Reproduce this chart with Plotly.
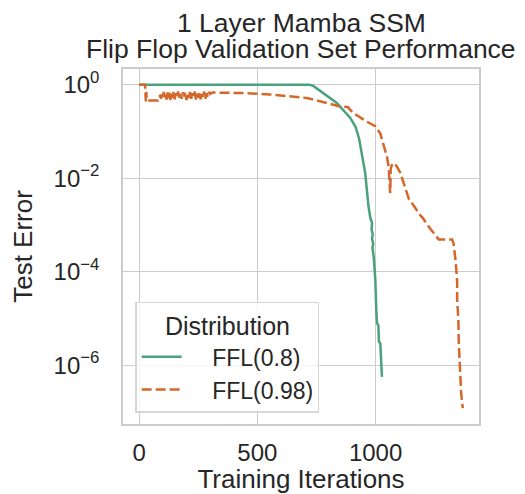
import plotly.graph_objects as go

# ---- data ----
green_label = "FFL(0.8)"
green_x = [0, 720, 735, 836, 893, 915, 930, 942, 956, 970, 978, 985, 983, 988, 985,
           990, 987, 992, 995, 999, 1003, 1006, 1012, 1014, 1020, 1022, 1027]
green_y = [1.0, 1.0, 0.955, 0.407, 0.195, 0.126, 0.071, 0.032, 0.013, 2.5e-3, 1.4e-3,
           1.1e-3, 8e-4, 6.3e-4, 5e-4, 4e-4, 3.2e-4, 2.1e-4, 1.26e-4, 6.6e-5, 1.5e-5,
           8e-6, 7e-6, 3.2e-6, 2.9e-6, 1.3e-6, 5.6e-7]

orange_label = "FFL(0.98)"
orange_x = [0, 25, 28, 30, 32, 80, 88, 92, 96, 100, 104, 108, 112, 116, 120, 124, 128,
            132, 136, 140, 145, 150, 155, 160, 165, 170, 175, 180, 185, 190, 195, 200,
            205, 210, 215, 220, 225, 230, 235, 240, 245, 250, 255, 260, 265, 270, 275,
            280, 285, 290, 295, 300, 310, 450, 550, 709, 850, 884, 890, 907, 963, 999,
            1020, 1034, 1048, 1055, 1058, 1062, 1064, 1070, 1077, 1090, 1105, 1140,
            1189, 1200, 1225, 1267, 1324, 1330, 1338, 1345, 1345, 1350, 1352, 1356,
            1360, 1362, 1369]
orange_y = [1.0, 1.0, 0.44, 0.7, 0.46, 0.46, 0.6, 0.5, 0.66, 0.55, 0.7, 0.5, 0.62, 0.48,
            0.68, 0.52, 0.7, 0.47, 0.64, 0.53, 0.7, 0.49, 0.66, 0.55, 0.71, 0.48, 0.63,
            0.5, 0.69, 0.56, 0.7, 0.47, 0.65, 0.52, 0.7, 0.5, 0.66, 0.56, 0.71, 0.48,
            0.64, 0.53, 0.7, 0.49, 0.68, 0.55, 0.71, 0.5, 0.66, 0.54, 0.7, 0.63, 0.68,
            0.66, 0.62, 0.52, 0.343, 0.33, 0.3, 0.245, 0.162, 0.129, 0.09, 0.05, 0.029,
            0.0178, 0.01, 0.0048, 0.0158, 0.02, 0.021, 0.0178, 0.0129, 0.0037, 1.62e-3,
            1.4e-3, 9.1e-4, 4.9e-4, 4.9e-4, 4e-4, 1.78e-4, 6.6e-5, 2.5e-5, 1e-5,
            2.95e-6, 7.9e-7, 5e-7, 2.5e-7, 1.2e-7]

x_ticks = [0, 500, 1000]
y_ticks = [1, 1e-2, 1e-4, 1e-6]
y_tick_text = ["10<sup>0</sup>", "10<sup>\u22122</sup>", "10<sup>\u22124</sup>", "10<sup>\u22126</sup>"]

title_lines = ["1 Layer Mamba SSM", "Flip Flop Validation Set Performance"]
legend_title = "Distribution"

# ---- figure ----
FONT = "Liberation Sans, Arial, sans-serif"
TXT = "#262626"
GRID = "#cccccc"
PAD = "\u00a0" * 4

fig = go.Figure()
fig.add_trace(go.Scatter(x=green_x, y=green_y, mode="lines", name=PAD + green_label,
                         line=dict(color="#4aa27c", width=2.5)))
fig.add_trace(go.Scatter(x=orange_x, y=orange_y, mode="lines", name=PAD + orange_label,
                         line=dict(color="#d4672a", width=2.5, dash="10px,4px")))

fig.update_layout(
    width=525, height=494,
    margin=dict(l=123, r=46, t=69, b=70),
    paper_bgcolor="white", plot_bgcolor="white",
    font=dict(family=FONT, color=TXT, size=24),
    showlegend=True,
    legend=dict(
        x=0.035, y=0.345, xanchor="left", yanchor="top",
        bgcolor="rgba(255,255,255,0.8)", bordercolor="#d6d6d6", borderwidth=1.2,
        font=dict(size=23, color=TXT),
        title=dict(text=legend_title, side="top center", font=dict(size=25, color=TXT)),
        itemwidth=40,
    ),
)
for txt, ypx in zip(title_lines, [23, 49]):
    fig.add_annotation(text=txt, x=0.5, xref="paper", y=1 + (69 - ypx) / 355, yref="paper",
                       xanchor="center", yanchor="middle", showarrow=False,
                       font=dict(size=26.5, color=TXT, family=FONT))

fig.update_xaxes(
    range=[-68.5, 1437.5], tickvals=x_ticks, showgrid=True, gridcolor=GRID, gridwidth=1.3,
    showline=True, linecolor=GRID, linewidth=1.5, mirror=True, zeroline=False,
    ticks="", ticklabelstandoff=6, tickfont=dict(size=24), automargin=False,
    title=dict(text="Training Iterations", font=dict(size=26), standoff=3),
)
fig.update_yaxes(
    type="log", range=[-7.26, 0.336], tickvals=y_ticks, ticktext=y_tick_text,
    showgrid=True, gridcolor=GRID, gridwidth=1.3,
    showline=True, linecolor=GRID, linewidth=1.5, mirror=True, zeroline=False,
    ticks="", ticklabelstandoff=17, tickfont=dict(size=24), automargin=False,
    title=dict(text="Test Error", font=dict(size=26), standoff=14),
)

fig.write_html("out.html")
